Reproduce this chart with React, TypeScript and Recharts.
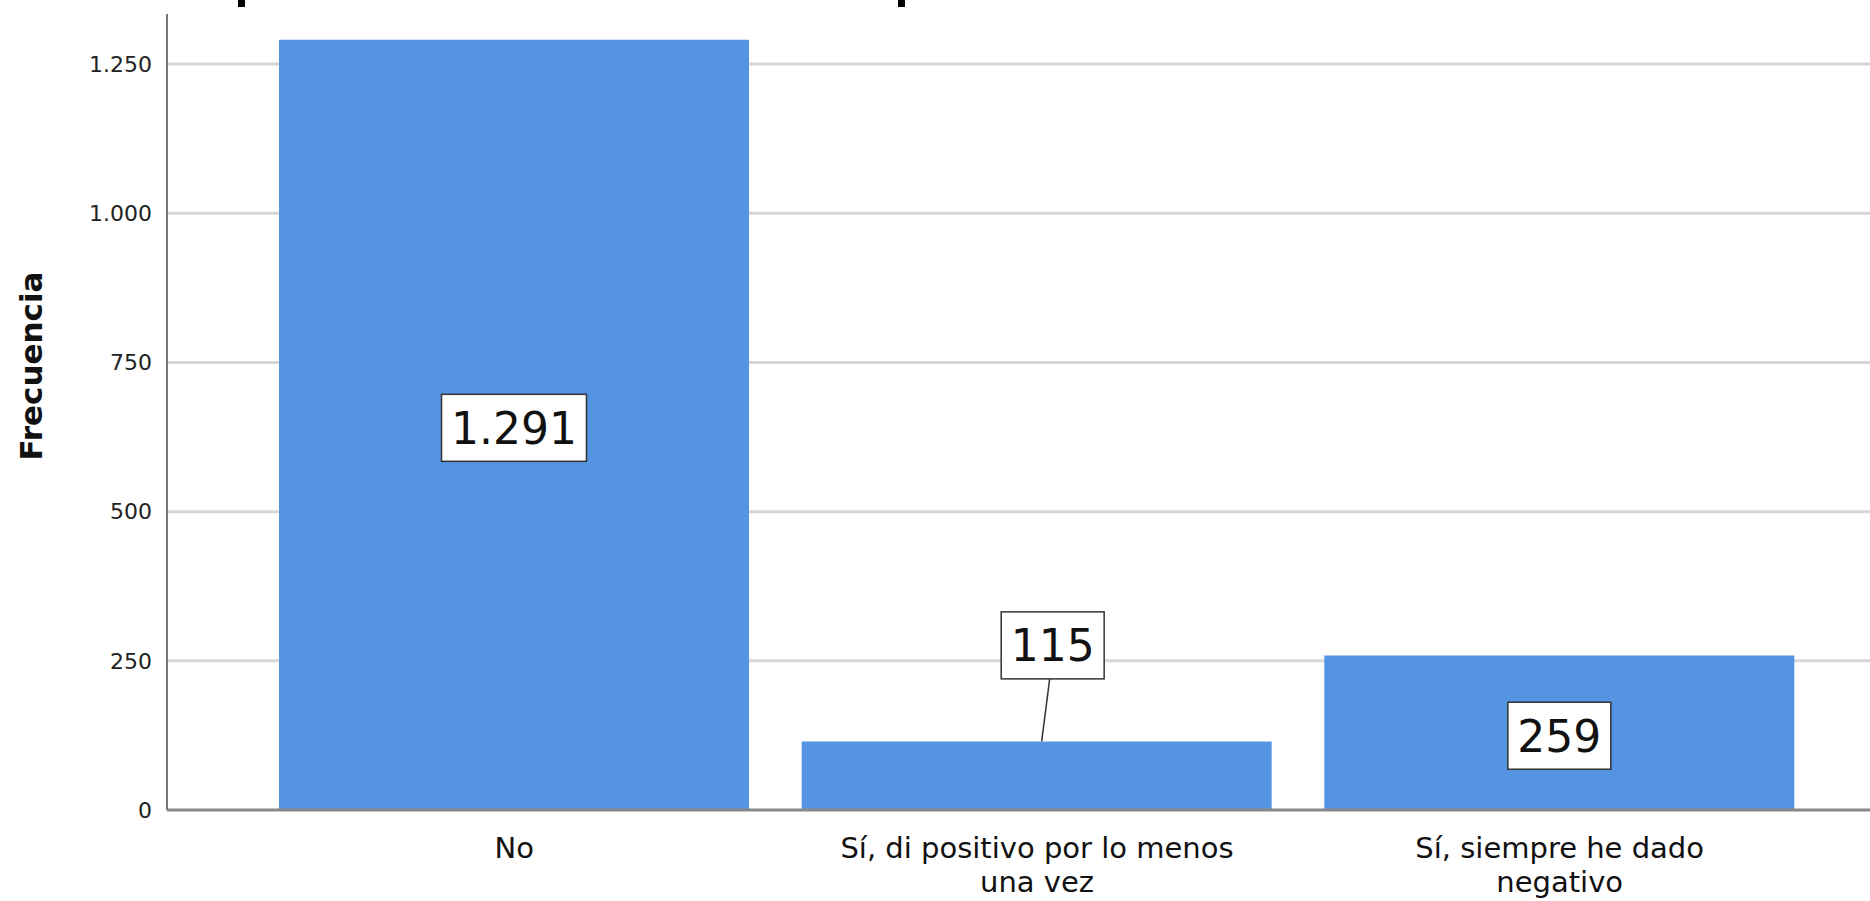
import { BarChart, Bar, XAxis, YAxis, CartesianGrid, LabelList } from "recharts";

const categories = ["No", "Sí, di positivo por lo menos una vez", "Sí, siempre he dado negativo"];
const categoryLines = [["No"], ["Sí, di positivo por lo menos", "una vez"], ["Sí, siempre he dado", "negativo"]];
const frecuencia = [1291, 115, 259];
const yTicks = [0, 250, 500, 750, 1000, 1250];

const data = categories.map((name, i) => ({ name, value: frecuencia[i] }));

const fmt = (v: number) => v.toLocaleString("de-DE");

const FONT = "'DejaVu Sans', Verdana, sans-serif";

function CategoryTick({ x, y, payload, index }: any) {
  const lines = categoryLines[index] ?? [payload.value];
  return (
    <text x={x} y={y} textAnchor="middle" fontFamily={FONT} fontSize={29} fill="#111">
      {lines.map((l: string, i: number) => (
        <tspan key={i} x={x} dy={i === 0 ? 40 : 34}>
          {l}
        </tspan>
      ))}
    </text>
  );
}

function ValueLabel({ x, y, width, height, value }: any) {
  const text = fmt(value);
  const fs = 44;
  const digits = text.replace(/\D/g, "").length;
  const bw = (digits * 0.636 + (text.length - digits) * 0.318) * fs + 19;
  const bh = 67;
  const cx = x + width / 2;
  const inside = height > bh + 30;
  if (inside) {
    const cy = y + height / 2 + 3;
    return (
      <g>
        <rect x={cx - bw / 2} y={cy - bh / 2} width={bw} height={bh} fill="#fff" stroke="#333" strokeWidth={1.5} />
        <text x={cx} y={cy + 16} textAnchor="middle" fontFamily={FONT} fontSize={fs} fill="#111">
          {text}
        </text>
      </g>
    );
  }
  const bx = cx + 16;
  const by = y - 96;
  return (
    <g>
      <line x1={bx - 3} y1={by + bh / 2} x2={cx + 5} y2={y} stroke="#333" strokeWidth={1.5} />
      <rect x={bx - bw / 2} y={by - bh / 2} width={bw} height={bh} fill="#fff" stroke="#333" strokeWidth={1.5} />
      <text x={bx} y={by + 16} textAnchor="middle" fontFamily={FONT} fontSize={fs} fill="#111">
        {text}
      </text>
    </g>
  );
}

function YTitle({ viewBox }: any) {
  const cx = 42;
  const cy = viewBox.y + viewBox.height / 2 - 46;
  return (
    <text x={cx} y={cy} transform={`rotate(-90 ${cx} ${cy})`} textAnchor="middle" fontFamily={FONT} fontWeight={700} fontSize={31} fill="#111">
      Frecuencia
    </text>
  );
}

export default function App() {
  return (
    <div style={{ position: "absolute", left: 0, top: 0, width: 1870, height: 901, background: "#fff" }}>
      {/* descenders of the cut-off title */}
      <div style={{ position: "absolute", left: 238, top: 0, width: 7, height: 7, background: "#000" }} />
      <div style={{ position: "absolute", left: 898, top: 0, width: 7, height: 7, background: "#000" }} />
      <BarChart width={1870} height={901} data={data} margin={{ top: 14, right: 0, bottom: 0, left: 0 }}>
        <CartesianGrid vertical={false} stroke="#d6d6d6" strokeWidth={3} horizontalValues={yTicks.slice(1)} />
        <XAxis
          dataKey="name"
          tick={<CategoryTick />}
          tickLine={false}
          axisLine={{ stroke: "#888", strokeWidth: 3 }}
          padding={{ left: 86, right: 49 }}
          interval={0}
          height={91}
        />
        <YAxis
          width={167}
          domain={[0, 1334]}
          ticks={yTicks}
          tickFormatter={fmt}
          tickLine={false}
          tickSize={6}
          tickMargin={9}
          axisLine={{ stroke: "#777", strokeWidth: 2 }}
          tick={{ fontFamily: FONT, fontSize: 22, fill: "#222" }}
          label={<YTitle />}
        />
        <Bar dataKey="value" fill="#5594E2" barSize={470} isAnimationActive={false}>
          <LabelList dataKey="value" content={<ValueLabel />} />
        </Bar>
      </BarChart>
    </div>
  );
}
